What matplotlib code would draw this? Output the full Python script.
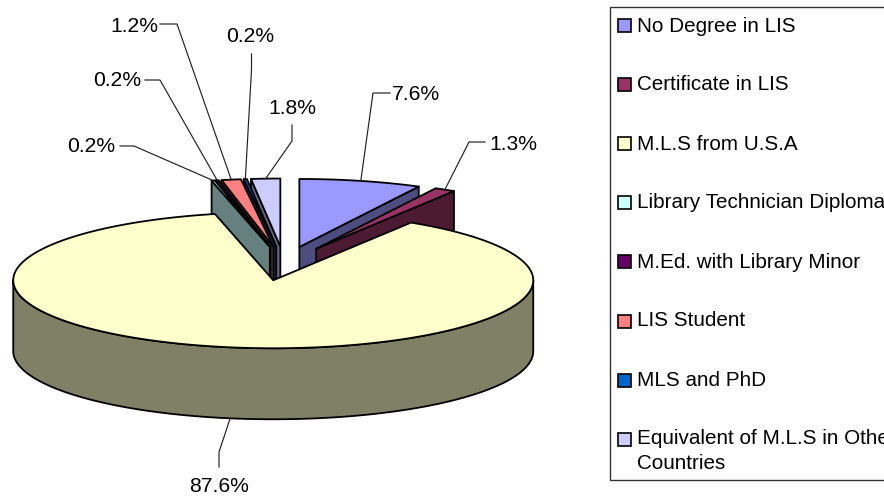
import numpy as np
import matplotlib
matplotlib.use('Agg')
import matplotlib.pyplot as plt
from matplotlib.patches import Polygon, Rectangle

plt.rcParams['font.family'] = ['Liberation Sans', 'DejaVu Sans']

# survey shares, clockwise from 12 o'clock
categories = ['No Degree in LIS', 'Certificate in LIS', 'M.L.S from U.S.A',
              'Library Technician Diploma', 'M.Ed. with Library Minor',
              'LIS Student', 'MLS and PhD',
              'Equivalent of M.L.S in Other\nCountries']
values = [7.6, 1.3, 87.6, 0.2, 0.2, 1.2, 0.2, 1.8]
top_colors = ['#9999FF', '#993366', '#FFFFCC', '#CCFFFF',
              '#660066', '#FF8080', '#0066CC', '#CCCCFF']
side_colors = ['#4D4D80', '#4D1A33', '#808066', '#668080',
               '#330033', '#804040', '#003366', '#666680']

# pie geometry, in pixels
CX, CY = 284, 263.5
RX, RY = 260, 68
DEPTH = 71
EXPLODE = 0.25

# label anchor (centre x, baseline y), then the two free points of each leader
label_xy = [(416, 100.5), (513, 149.5), (219, 492), (91.5, 152),
            (117, 86.5), (134, 31.5), (250.5, 42), (292, 114.5)]
elbow_xy = [(373, 93), (469, 142), (219, 452), (134, 146),
            (160, 80), (177, 24), (251.5, 70), (292, 141)]
stub_xy = [(390, 93), (485, 142), (219, 467), (120, 146),
           (145, 80), (160, 24), (251.5, 54), (292, 125)]


def ellipse_pt(t, ox, oy):
    return ox + RX * np.sin(t), oy - RY * np.cos(t)


def draw_slice(ax, t0, t1, top, side):
    mid = (t0 + t1) / 2
    ox, oy = ellipse_pt(mid, 0, 0)
    ox, oy = CX + EXPLODE * ox, CY + EXPLODE * oy

    # cut faces that look toward the viewer
    if np.sin(t0) < -1e-9:
        rx, ry = ellipse_pt(t0, ox, oy)
        ax.add_patch(Polygon([(ox, oy), (rx, ry), (rx, ry + DEPTH), (ox, oy + DEPTH)],
                             fc=side, ec='black', lw=1.3, joinstyle='round'))
    if np.sin(t1) > 1e-9:
        rx, ry = ellipse_pt(t1, ox, oy)
        ax.add_patch(Polygon([(ox, oy), (rx, ry), (rx, ry + DEPTH), (ox, oy + DEPTH)],
                             fc=side, ec='black', lw=1.3, joinstyle='round'))

    # outer wall, only the front half shows
    lo, hi = max(t0, np.pi / 2), min(t1, 3 * np.pi / 2)
    if hi > lo:
        ws = np.linspace(lo, hi, 300)
        wx, wy = ellipse_pt(ws, ox, oy)
        pts = np.r_[np.c_[wx, wy], np.c_[wx, wy + DEPTH][::-1]]
        ax.add_patch(Polygon(pts, fc=side, ec='black', lw=1.3, joinstyle='round'))

    ts = np.linspace(t0, t1, max(3, int(np.degrees(t1 - t0) * 2)))
    ex, ey = ellipse_pt(ts, ox, oy)
    pts = np.r_[[(ox, oy)], np.c_[ex, ey]]
    ax.add_patch(Polygon(pts, fc=top, ec='black', lw=1.3, joinstyle='round'))


fig = plt.figure(figsize=(8.84, 4.97), dpi=100)
ax = fig.add_axes([0, 0, 1, 1])
ax.set_xlim(0, 884)
ax.set_ylim(497, 0)
ax.axis('off')

fracs = np.array(values) / sum(values)
edges = np.r_[0, np.cumsum(fracs)] * 2 * np.pi
mids = (edges[:-1] + edges[1:]) / 2

# back slices first so the ones in front cover them
for i in np.argsort(-np.cos(mids)):
    draw_slice(ax, edges[i], edges[i + 1], top_colors[i], side_colors[i])

# leader lines and value labels
for i, v in enumerate(values):
    ox, oy = ellipse_pt(mids[i], 0, 0)
    ex, ey = CX + (1 + EXPLODE) * ox, CY + (1 + EXPLODE) * oy
    if np.cos(mids[i]) < 0:
        ey += DEPTH
    ax.plot([ex, elbow_xy[i][0], stub_xy[i][0]], [ey, elbow_xy[i][1], stub_xy[i][1]],
            color='#222222', lw=0.85)
    ax.text(label_xy[i][0], label_xy[i][1], '%.1f%%' % v, ha='center', va='baseline',
            fontsize=15.2, color='black')

# legend box runs past the right edge of the figure
ax.add_patch(Rectangle((609.5, 7), 400, 473, fc='white', ec='#333333', lw=1.0))
for i, name in enumerate(categories):
    ax.add_patch(Rectangle((618, 19 + i * 59.1), 13, 13, fc=top_colors[i], ec='black', lw=1.2))
    lines = name.split('\n')
    for j, line in enumerate(lines):
        ax.text(637, 31.5 + i * 59 + j * 24.5, line, ha='left', va='baseline',
                fontsize=14.9, color='black')

fig.savefig('out.png', dpi=100)
